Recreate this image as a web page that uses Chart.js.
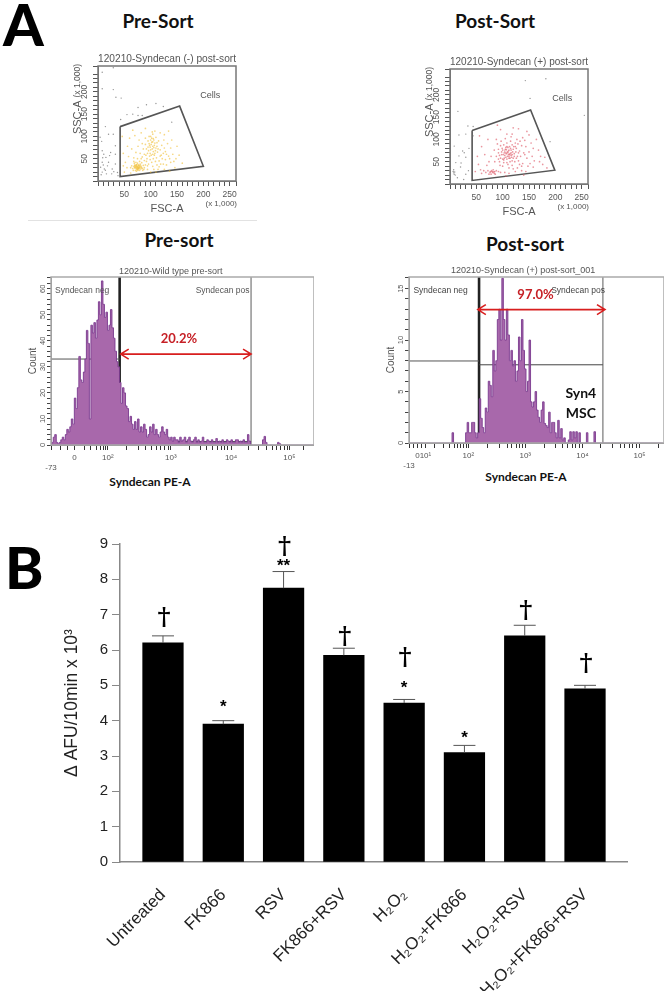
<!DOCTYPE html>
<html>
<head>
<meta charset="utf-8">
<script src="https://cdn.jsdelivr.net/npm/chart.js@4"></script>
<style>
  html, body { margin: 0; padding: 0; background: #fff; }
  #page { position: relative; width: 667px; height: 991px; overflow: hidden; }
  canvas { position: absolute; }
  .flow { filter: blur(0.45px); }
  .head { position: absolute; font-family: Lato, sans-serif; font-weight: 700; color: #111; white-space: nowrap; transform: translateX(-50%); }
  .letter { position: absolute; font-family: Lato, sans-serif; font-weight: 900; color: #000; line-height: 1; }
  #rule { position: absolute; left: 28px; top: 220px; width: 229px; height: 1px; background: #e2e2e2; }
</style>
</head>
<body>
<div id="page">
  <div class="letter" style="left:3px;top:-5px;font-size:58px">A</div>
  <div class="letter" style="left:5px;top:538px;font-size:58px">B</div>
  <div class="head" style="left:158px;top:9px;font-size:19px">Pre-Sort</div>
  <div class="head" style="left:495px;top:9px;font-size:19px">Post-Sort</div>
  <div id="rule"></div>
  <div class="head" style="left:179px;top:228px;font-size:19px">Pre-sort</div>
  <div class="head" style="left:525px;top:232px;font-size:19px">Post-sort</div>
  <div class="head" style="left:150px;top:474px;font-size:12px">Syndecan PE-A</div>
  <div class="head" style="left:526px;top:469px;font-size:12px">Syndecan PE-A</div>

  <canvas id="presortGate" class="flow" style="left:60px;top:52px" width="180" height="164"></canvas>
  <canvas id="postsortGate" class="flow" style="left:412px;top:55px" width="180" height="164"></canvas>
  <canvas id="presortHist" class="flow" style="left:20px;top:262px" width="294" height="213"></canvas>
  <canvas id="postsortHist" class="flow" style="left:370px;top:262px" width="294" height="211"></canvas>
  <canvas id="afuChart" class="flow" style="left:60px;top:530px" width="568" height="461"></canvas>
</div>

<script>
// panel A, side/forward scatter (x 1,000)
const preGate = [[42,122],[155,168],[200,33],[42,10],[42,122]];
const postGate = [[42,120],[153,166],[199,31],[42,8],[42,120]];
const preOutside = [[8,244],[29,254],[8,207],[29,205],[34,188],[44,186],[76,165],[92,171],[110,174],[124,167],[66,150],[76,147],[84,147],[43,138],[55,149],[14,122],[20,105],[29,105],[4,98],[7,89],[33,79],[140,132],
  [8,68],[24,64],[11,60],[15,53],[8,42],[20,42],[33,38],[27,27],[12,27],[8,20],[16,16],[30,21],[37,19],[22,57],[5,31],[33,60],[6,14],[10,36],[14,24],[38,12],[26,16],[18,34],[9,52]];
const preInside = [[76,34],[72,30],[70,36],[78,28],[82,32],[74,26],[68,32],[80,38],[84,28],[66,28],[75,40],[71,24],[79,24],[86,35],[69,40],[73,33],[77,31],[81,27],[64,34],[74,37],[83,41],[88,30],[67,24],[72,42],[78,35],[80,31],[75,29],[70,29],[76,24],[85,24],[62,30],[90,36],[73,22],[68,44],[79,44],[87,26],
  [75,32],[77,36],[71,33],[73,28],[79,33],[69,34],[74,31],[76,29],[72,35],[78,30],[70,31],[81,35],[73,36],[75,26],[77,27],[83,30],
  [102,87],[98,80],[105,95],[100,70],[108,85],[95,90],[104,105],[110,98],[99,62],[106,75],[92,72],[112,78],[103,110],[97,100],[109,68],[101,58],[94,62],[115,90],[107,58],[90,82],[113,65],[104,78],[100,92],[96,68],[108,112],[105,50],[93,50],[118,70],[111,52],[88,60],[120,58],[99,48],[86,72],[116,45],[124,62],[102,42],[92,44],[109,44],[128,48],[121,80],[84,54],[96,38],[112,36],[104,33],[119,38],
  [101,82],[104,88],[99,76],[106,92],[103,72],[107,80],[97,84],[102,96],[105,66],[100,100],[110,74],[95,76],[104,60],[98,56],[108,62],[114,72],[91,58],[112,86],
  [52,42],[58,55],[64,72],[60,96],[70,102],[78,92],[55,30],[50,20],[62,18],[84,84],[76,78],[72,64],[68,52],[80,62],[82,108],[118,108],[126,104],[134,112],[132,84],[138,74],[142,60],[130,36],[138,42],[148,50],[146,30],[154,58],[126,26],[114,26],[94,26],[100,20],[110,20],[48,62],[46,100],[48,34],[56,78],[66,114],[90,118],[140,92],[150,78],[160,40],[136,22],[75,50],[90,96],[125,92],
  [122,50],[128,66],[134,56],[144,44],[116,32],[124,38],[88,46],[82,50],[94,34],[106,26],[118,56],[126,74],[130,60],[136,50]];
const postOutside = [[143,232],[182,236],[15,163],[255,154],[34,130],[44,129],[17,110],[30,112],[190,95],[44,108],[8,85],[24,74],[17,63],[27,70],[11,48],[7,32],[21,47],[8,22],[7,25],[10,20],[20,38],[30,22],[14,14],[26,10],[35,30],[30,60],[36,80],[6,28],[9,27],[152,192]];
const postInside = [[110,70],[104,64],[116,76],[112,58],[98,72],[122,68],[106,82],[118,88],[100,56],[114,50],[126,80],[94,64],[108,92],[120,58],[128,62],[92,78],[102,48],[132,74],[116,64],[108,56],[112,76],[104,74],[96,86],[124,92],[110,44],[118,42],[130,52],[136,86],[88,62],[100,40],[106,70],[113,84],[119,72],[101,66],[109,62],[115,96],[123,50],[127,100],[94,50],[90,90],[97,96],[134,62],[140,70],[105,102],[112,36],[120,34],[85,50],[144,84],[138,46],[146,58],
  [111,66],[107,77],[103,58],[117,60],[99,80],[121,84],[114,68],[108,48],[125,72],[92,70],[129,90],[116,106],[133,96],[102,88],[95,42],[142,98],[150,72],[156,62],[148,40],[160,52],[128,36],[136,30],[154,92],[118,112],[108,112],[88,100],[84,76],[78,62],[74,50],[70,42],
  [109,72],[113,66],[105,78],[115,80],[111,74],[107,68],[118,66],[103,70],[112,62],[116,70],[106,60],[120,78],[98,66],[110,82],[122,62],[100,76],[114,58],[108,84],[124,84],[96,58],[102,54],[118,52],[126,58],[130,70],[92,56],
  [80,28],[76,26],[84,24],[72,30],[88,30],[68,26],[82,32],[78,22],[92,28],[64,30],[86,22],[74,22],[60,24],[96,26],[58,32],[104,26],[112,24],[124,28],[144,28],[158,38],[170,50],[168,76],[176,44],[184,36],[164,100],[146,118],[120,126],[96,122],[72,100],[60,84],[52,62],[48,28],[54,44],[66,66],[180,60],[56,108],[90,132],[130,124],[150,110],[106,18],[140,20],
  [81,26],[79,30],[83,27],[77,28],[85,28],[136,40],[132,44],[152,46],[142,66],[138,104],[158,80],[172,62]];

// panel A, syndecan histograms. One value per bin, x stays in bins
const preCounts = [0,1,3,4,1,0.5,1,2,3,2,4,6,5,7,10,8,18,14,22,34,25,24,28,33,44,39,10,46,43,47,41,48,55,50,63,54,49,51,44,46,52,45,41,36,32,30,24,16,22,20,15,14,9,11,8,6,9,6,10,
  5,7,5,8,6,3,4,7,5,8,4,6,4,3,5,7,5,4,6,3,2,3,1.5,3,2,2,1,3,1.5,2,3,1,2,3,1.5,1,2,3,1,2,1,1.5,3,1,1,2,1.5,1,2,1,1,2.5,1,1.5,1,2,1,1,2,1.5,1,2,1,1,2,2,1,1.5,1,2,1,1,4,1.5,
  0,0,0,0,0,0,0,0,2,3.3,1,0,0,0,0,0,0,0,1,0.5,0,0,0,0,0,0,0,0,0,0,0,0,0,0,0,0,0,0,0,0,0,0,0];
const postCounts = [0,0,0,0,0,0,0,0,0,0,0,0,0,0,0,0,0,0,0,0,0,0,0,0,0,0,0,0,0,1,0,0,0,0,0,0,0,0,
  1,2,1,1,2,2,1,0.5,1,4.3,2.4,1.5,1,3.4,3,6,5.6,4.5,9,7,8,12,13,10,16,12,10,13,10.5,8,9,7.5,8,6,7,10.3,8,12,9,7.2,5,6,10,4,3.5,4,5,3.2,2.5,2,3.2,4,1.9,1.7,1.5,3,1,2,2,1,0.5,2.2,0.5,1.4,0.3,0.5,0,0,0.3,1.1,0.3,1.1,0.5,1.1,0,1,0,0,0,0,1,0,0,0,0,1.1,
  0,0,0,0,0,0,0,0,0,0,0,0,0,0,0,0,0,0,0,0,0,0,0,0,0,0,0,0,0,0,0,0,0,0,0,0,0,0,0,0,0,0,0,0,0];
const preTickBins = [0,6,11,15.6,22,26,30,33,35,36.5,37.8,50.4,57.8,62.8,66.8,70.3,72.8,75.6,77.8,79.6,92,99.6,103.6,107.6,110.6,113,115,117,119.6,131,138,143,147,150,152.6,155,157,158.4,168];
const preTickLabels = {0:['','-73'],15.6:'0',37.8:'10²',79.6:'10³',119.6:'10⁴',158.4:'10⁵'};
const postTickBins = [0,3,5.6,8,10.9,17,23,27,30,32,34,36,38,39.3,52,60,65,68,71,73,75,77,90,97,102,105,108,110,113,114.9,127,135,140,143,146,148,151,152.7,165];
const postTickLabels = {0:['','-13'],5.6:'0',10.9:'10¹',39.3:'10²',77:'10³',114.9:'10⁴',152.7:'10⁵'};

// panel B
const treatments = ['Untreated','FK866','RSV','FK866+RSV','H₂O₂','H₂O₂+FK866','H₂O₂+RSV','H₂O₂+FK866+RSV'];
const afuValues = [6.2,3.9,7.75,5.85,4.5,3.1,6.4,4.9];
const afuErrorTops = [6.4,4.0,8.22,6.05,4.6,3.3,6.7,5.0];
const afuDaggers = [6.9,null,8.9,6.35,5.75,null,7.08,5.6];     // where the dagger sits, in y units
const afuStars = [null,'*','**',null,'*','*',null,null];
const afuStarHeights = [null,4.46,8.45,null,5.0,3.58,null,null];

const flowFont = '"Liberation Sans", Arial, sans-serif';

// writes notes, arrows and the plot frame over a flow panel
const panelExtras = {
    id: 'panelExtras',
    afterDatasetsDraw(chart, args, opts) {
        let ctx = chart.ctx, xs = chart.scales.x, ys = chart.scales.y, area = chart.chartArea;
        ctx.save();
        if (opts.frame) {
            ctx.strokeStyle = opts.frame;
            ctx.lineWidth = 1.5;
            ctx.strokeRect(area.left, area.top, area.right - area.left, area.bottom - area.top);
        }
        (opts.arrows || []).forEach(function(a) {
            let x0 = xs.getPixelForValue(a[0]), x1 = xs.getPixelForValue(a[1]), y = ys.getPixelForValue(a[2]);
            ctx.strokeStyle = '#d81e1e';
            ctx.lineWidth = 1.6;
            ctx.beginPath();
            ctx.moveTo(x0, y); ctx.lineTo(x1, y);
            ctx.moveTo(x0 + 8, y - 5); ctx.lineTo(x0, y); ctx.lineTo(x0 + 8, y + 5);
            ctx.moveTo(x1 - 8, y - 5); ctx.lineTo(x1, y); ctx.lineTo(x1 - 8, y + 5);
            ctx.stroke();
        });
        (opts.notes || []).forEach(function(n) {
            ctx.save();
            ctx.font = n[3];
            ctx.fillStyle = n[4];
            ctx.textAlign = 'center';
            ctx.textBaseline = 'middle';
            ctx.translate(xs.getPixelForValue(n[1]), ys.getPixelForValue(n[2]));
            if (n[5]) ctx.rotate(-Math.PI / 2);     // axis captions
            ctx.fillText(n[0], 0, 0);
            ctx.restore();
        });
        ctx.restore();
    }
};

window.initializeGateChart = function(id, title, inside, outside, gate, dotColor) {     // scatter with its gate polygon
    let toPoints = function(list) { return list.map(function(p) { return { x: p[0], y: p[1] }; }); };
    return new Chart(document.getElementById(id), {
        type: 'scatter',
        data: {
            datasets: [
                { data: toPoints(outside), backgroundColor: 'rgba(120,120,120,0.8)', pointRadius: 0.7, borderWidth: 0 },
                { data: toPoints(inside), backgroundColor: dotColor, pointRadius: 0.85, borderWidth: 0 },
                { data: toPoints(gate), showLine: true, borderColor: '#555', borderWidth: 1.6, pointRadius: 0 }
            ]
        },
        plugins: [panelExtras],
        options: {
            responsive: false,
            animation: false,
            plugins: {
                legend: { display: false },
                tooltip: { enabled: false },
                title: { display: true, text: title, align: 'start', fullSize: false, color: '#555', padding: 0,
                    font: { family: flowFont, size: 11.7, weight: 'normal', lineHeight: '14px' } },
                panelExtras: { frame: '#777', notes: [
                    ['Cells', 213, 191, '9px ' + flowFont, '#555'],
                    ['(x 1,000)', 234, -51, '8px ' + flowFont, '#555'],
                    ['SSC-A', -38, 143, '11px ' + flowFont, '#555', true],
                    ['(x 1,000)', -38, 225, '8.5px ' + flowFont, '#555', true]
                ] }
            },
            scales: {
                x: {
                    min: 0, max: 262,
                    afterFit: function(s) { s.height = 35; },
                    title: { display: true, text: 'FSC-A', color: '#555', padding: 0, font: { family: flowFont, size: 11 } },
                    grid: { drawOnChartArea: false, color: '#555', tickLength: 5 },
                    border: { color: '#777' },
                    ticks: { stepSize: 10, autoSkip: false, maxRotation: 0, color: '#555', padding: 4, font: { family: flowFont, size: 8.5 },
                        callback: function(v) { return v % 50 === 0 && v > 0 ? v : ''; } }
                },
                y: {
                    min: 0, max: 258,
                    afterFit: function(s) { s.width = 38; },
                    grid: { drawOnChartArea: false, color: '#555', tickLength: 5 },
                    border: { color: '#777' },
                    ticks: { stepSize: 10, autoSkip: false, minRotation: 90, maxRotation: 90, crossAlign: 'center', color: '#555', padding: 1, font: { family: flowFont, size: 8.5 },
                        callback: function(v) { return v % 50 === 0 && v > 0 ? v : ''; } }
                }
            }
        }
    });
}

window.initializeHistogram = function(id, opt) {     // stepped count histogram with gate lines
    let lineSet = function(points, color, width) {
        return { type: 'line', data: points.map(function(p) { return { x: p[0], y: p[1] }; }), borderColor: color, borderWidth: width, pointRadius: 0, fill: false };
    };
    return new Chart(document.getElementById(id), {
        type: 'line',
        data: {
            datasets: [
                { data: opt.counts.map(function(c, i) { return { x: i, y: c }; }), stepped: 'middle', borderColor: '#7a3a8e', borderWidth: 0.9,
                    backgroundColor: '#a868ab', fill: 'origin', pointRadius: 0 },
                lineSet(opt.lowGate, '#444', 1),
                lineSet(opt.sideGate, '#555', 1),
                lineSet(opt.posGate, '#999', 1.6),
                lineSet(opt.negGate, '#222', 2.6)
            ]
        },
        plugins: [panelExtras],
        options: {
            responsive: false,
            animation: false,
            layout: { padding: { top: 15 } },
            plugins: {
                legend: { display: false },
                tooltip: { enabled: false },
                panelExtras: { frame: '#aaa', notes: opt.notes, arrows: [opt.arrow] }
            },
            scales: {
                x: {
                    type: 'linear', min: 0, max: opt.binMax,
                    afterFit: function(s) { s.height = opt.bottom; },
                    afterBuildTicks: function(s) { s.ticks = opt.tickBins.map(function(v) { return { value: v }; }); },
                    grid: { drawOnChartArea: false, color: '#333', tickLength: 5 },
                    border: { color: '#888' },
                    ticks: { autoSkip: false, maxRotation: 0, color: '#555', padding: 3, font: { family: flowFont, size: 8 },
                        callback: function(v) { return opt.tickLabels[v] || ''; } }
                },
                y: {
                    min: 0, max: opt.yMax,
                    afterFit: function(s) { s.width = opt.left; },
                    title: { display: true, text: 'Count', color: '#555', padding: { top: opt.countPad, bottom: 0 }, font: { family: flowFont, size: 10 } },
                    grid: { drawOnChartArea: false, color: '#444', tickLength: 4 },
                    border: { color: '#888' },
                    ticks: { stepSize: opt.yMinor, autoSkip: false, minRotation: 90, maxRotation: 90, crossAlign: 'center', color: '#555', padding: 0, font: { family: flowFont, size: 7.5 },
                        callback: function(v) { return v % opt.yMajor === 0 ? v : ''; } }
                }
            }
        }
    });
}

window.initializeAfuChart = function() {     // panel B bars
    let barFont = '"Liberation Sans", Arial, sans-serif';
    let extras = {
        id: 'afuExtras',
        afterDatasetsDraw(chart) {
            let ctx = chart.ctx, xs = chart.scales.x, ys = chart.scales.y;
            ctx.save();
            ctx.strokeStyle = '#555';
            ctx.lineWidth = 1;
            ctx.fillStyle = '#000';
            ctx.textAlign = 'center';
            ctx.textBaseline = 'middle';
            treatments.forEach(function(t, i) {
                let x = xs.getPixelForValue(i), top = ys.getPixelForValue(afuErrorTops[i]), base = ys.getPixelForValue(afuValues[i]);
                ctx.beginPath();
                ctx.moveTo(x, base); ctx.lineTo(x, top);
                ctx.moveTo(x - 11, top); ctx.lineTo(x + 11, top);
                ctx.stroke();
                if (afuDaggers[i] !== null) {
                    ctx.font = 'bold 25px "DejaVu Serif", serif';
                    ctx.fillText('†', x + 1, ys.getPixelForValue(afuDaggers[i]));
                }
                if (afuStars[i] !== null) {
                    ctx.font = 'bold 17px "Liberation Sans", sans-serif';
                    ctx.fillText(afuStars[i], x, ys.getPixelForValue(afuStarHeights[i]) + 3);
                }
            });
            ctx.restore();
        }
    };
    return new Chart(document.getElementById('afuChart'), {
        type: 'bar',
        data: {
            datasets: [{
                data: treatments.map(function(t, i) { return { x: i, y: afuValues[i] }; }),
                backgroundColor: '#000',
                barThickness: 40.6
            }]
        },
        plugins: [extras],
        options: {
            responsive: false,
            animation: false,
            layout: { padding: { top: 14 } },
            plugins: { legend: { display: false }, tooltip: { enabled: false } },
            scales: {
                x: {
                    type: 'linear', offset: false, min: -0.713, max: 7.713,
                    afterFit: function(s) { s.height = 129; },
                    afterBuildTicks: function(s) { s.ticks = treatments.map(function(t, i) { return { value: i }; }); },
                    grid: { display: false, offset: false },
                    border: { color: '#888', width: 1.5 },
                    ticks: { autoSkip: false, minRotation: 45, maxRotation: 45, color: '#222', padding: 15, font: { family: barFont, size: 17 },
                        callback: function(v) { return treatments[v]; } }
                },
                y: {
                    min: 0, max: 9,
                    afterFit: function(s) { s.width = 60; },
                    title: { display: true, text: 'Δ AFU/10min x 10³', color: '#222', padding: { top: 2, bottom: 0 }, font: { family: barFont, size: 17.5 } },
                    grid: { drawOnChartArea: false, color: '#888', tickLength: 8 },
                    border: { color: '#888', width: 1.5 },
                    ticks: { stepSize: 1, color: '#222', padding: 4, font: { family: barFont, size: 15 } }
                }
            }
        }
    });
}

initializeGateChart('presortGate', '120210-Syndecan (-) post-sort', preInside, preOutside, preGate, 'rgba(240,190,50,0.6)');
initializeGateChart('postsortGate', '120210-Syndecan (+) post-sort', postInside, postOutside, postGate, 'rgba(220,80,95,0.6)');

initializeHistogram('presortHist', {
    counts: preCounts, binMax: 174.7, yMax: 64.5, yMinor: 2, yMajor: 10, left: 31, bottom: 30, countPad: 7,
    tickBins: preTickBins, tickLabels: preTickLabels,
    negGate: [[45.6, 0], [45.6, 64.5]], posGate: [[132.9, 0], [132.9, 64.5]],
    sideGate: [[0, 33], [45.6, 33]], lowGate: [[45.6, 1.3], [132.9, 1.3]],
    arrow: [46.3, 132.9, 34.9],
    notes: [
        ['120210-Wild type pre-sort', 79.5, 66.6, '9px ' + flowFont, '#555'],
        ['Syndecan neg', 20.7, 59.4, '8.5px ' + flowFont, '#555'],
        ['Syndecan pos', 114, 59.4, '8.5px ' + flowFont, '#555'],
        ['20.2%', 85, 40.6, 'bold 13px Lato, sans-serif', '#c62026']
    ]
});

initializeHistogram('postsortHist', {
    counts: postCounts, binMax: 168.9, yMax: 16.13, yMinor: 1, yMajor: 5, left: 39, bottom: 30, countPad: 15,
    tickBins: postTickBins, tickLabels: postTickLabels,
    negGate: [[46.4, 0], [46.4, 16.13]], posGate: [[128.4, 0], [128.4, 16.13]],
    sideGate: [[0, 7.97], [46.4, 7.97]], lowGate: [[46.4, 7.6], [128.4, 7.6]],
    arrow: [45.6, 129.8, 12.96],
    notes: [
        ['120210-Syndecan (+) post-sort_001', 75.6, 16.75, '9px ' + flowFont, '#555'],
        ['Syndecan neg', 20.9, 14.8, '8.5px ' + flowFont, '#444'],
        ['Syndecan pos', 112, 14.8, '8.5px ' + flowFont, '#444'],
        ['97.0%', 83.8, 14.4, 'bold 13px Lato, sans-serif', '#c62026'],
        ['Syn4', 113.8, 4.8, 'bold 14px Lato, sans-serif', '#111'],
        ['MSC', 113.8, 2.85, 'bold 14px Lato, sans-serif', '#111']
    ]
});

initializeAfuChart();
</script>
</body>
</html>
